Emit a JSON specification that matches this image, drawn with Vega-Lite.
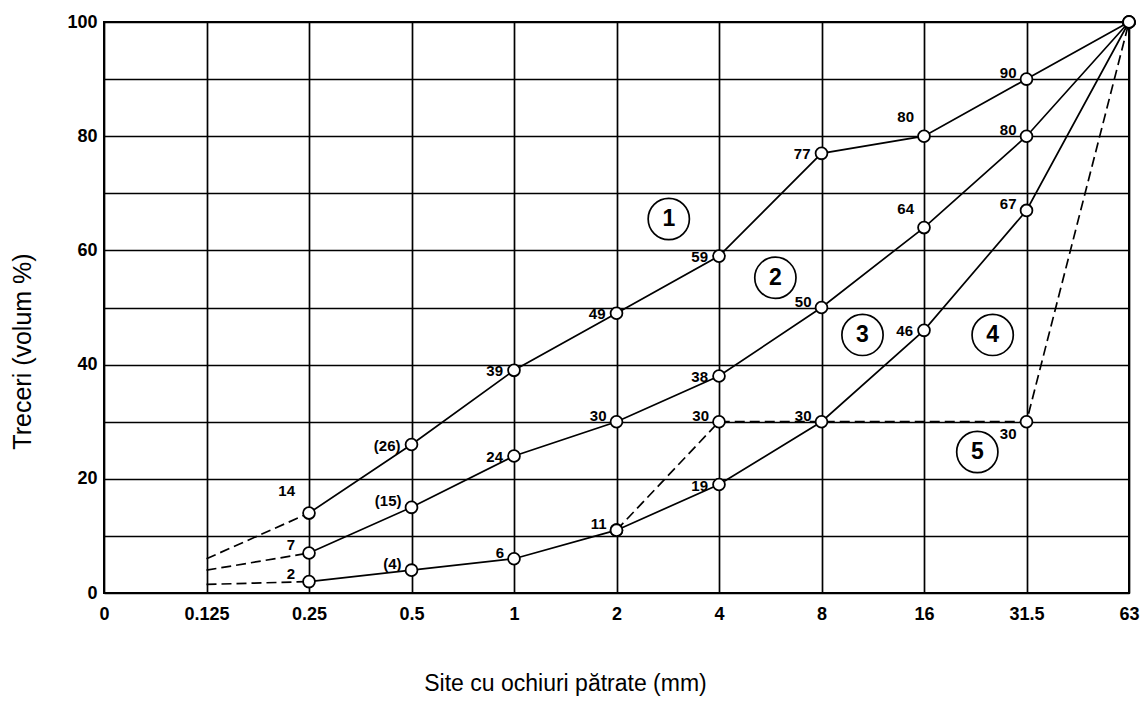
{
  "$schema": "https://vega.github.io/schema/vega-lite/v6.json",
  "width": 1025,
  "height": 571,
  "autosize": "none",
  "padding": {"left": 104, "top": 22, "right": 13, "bottom": 118},
  "background": "white",
  "config": {
    "font": "Liberation Sans",
    "view": {"stroke": "black", "strokeWidth": 2},
    "text": {"fontSize": 15, "fontWeight": "bold", "color": "black", "baseline": "middle"}
  },
  "datasets": {
    "curves": [
      {"curve": "1", "seg": "main", "sieve": "0.25", "rank": 2, "value": 14, "est": false},
      {"curve": "1", "seg": "main", "sieve": "0.5", "rank": 3, "value": 26, "est": true},
      {"curve": "1", "seg": "main", "sieve": "1", "rank": 4, "value": 39, "est": false},
      {"curve": "1", "seg": "main", "sieve": "2", "rank": 5, "value": 49, "est": false},
      {"curve": "1", "seg": "main", "sieve": "4", "rank": 6, "value": 59, "est": false},
      {"curve": "1", "seg": "main", "sieve": "8", "rank": 7, "value": 77, "est": false},
      {"curve": "1", "seg": "main", "sieve": "16", "rank": 8, "value": 80, "est": false},
      {"curve": "1", "seg": "main", "sieve": "31.5", "rank": 9, "value": 90, "est": false},
      {"curve": "1", "seg": "main", "sieve": "63", "rank": 10, "value": 100, "est": false},
      {"curve": "1", "seg": "ext", "sieve": "0.125", "rank": 1, "value": 6, "est": true},
      {"curve": "1", "seg": "ext", "sieve": "0.25", "rank": 2, "value": 14, "est": false},

      {"curve": "2", "seg": "main", "sieve": "0.25", "rank": 2, "value": 7, "est": false},
      {"curve": "2", "seg": "main", "sieve": "0.5", "rank": 3, "value": 15, "est": true},
      {"curve": "2", "seg": "main", "sieve": "1", "rank": 4, "value": 24, "est": false},
      {"curve": "2", "seg": "main", "sieve": "2", "rank": 5, "value": 30, "est": false},
      {"curve": "2", "seg": "main", "sieve": "4", "rank": 6, "value": 38, "est": false},
      {"curve": "2", "seg": "main", "sieve": "8", "rank": 7, "value": 50, "est": false},
      {"curve": "2", "seg": "main", "sieve": "16", "rank": 8, "value": 64, "est": false},
      {"curve": "2", "seg": "main", "sieve": "31.5", "rank": 9, "value": 80, "est": false},
      {"curve": "2", "seg": "main", "sieve": "63", "rank": 10, "value": 100, "est": false},
      {"curve": "2", "seg": "ext", "sieve": "0.125", "rank": 1, "value": 4, "est": true},
      {"curve": "2", "seg": "ext", "sieve": "0.25", "rank": 2, "value": 7, "est": false},

      {"curve": "3", "seg": "main", "sieve": "0.25", "rank": 2, "value": 2, "est": false},
      {"curve": "3", "seg": "main", "sieve": "0.5", "rank": 3, "value": 4, "est": true},
      {"curve": "3", "seg": "main", "sieve": "1", "rank": 4, "value": 6, "est": false},
      {"curve": "3", "seg": "main", "sieve": "2", "rank": 5, "value": 11, "est": false},
      {"curve": "3", "seg": "main", "sieve": "4", "rank": 6, "value": 19, "est": false},
      {"curve": "3", "seg": "main", "sieve": "8", "rank": 7, "value": 30, "est": false},
      {"curve": "3", "seg": "main", "sieve": "16", "rank": 8, "value": 46, "est": false},
      {"curve": "3", "seg": "main", "sieve": "31.5", "rank": 9, "value": 67, "est": false},
      {"curve": "3", "seg": "main", "sieve": "63", "rank": 10, "value": 100, "est": false},
      {"curve": "3", "seg": "ext", "sieve": "0.125", "rank": 1, "value": 1.5, "est": true},
      {"curve": "3", "seg": "ext", "sieve": "0.25", "rank": 2, "value": 2, "est": false},

      {"curve": "5", "seg": "main", "sieve": "2", "rank": 5, "value": 11, "est": false},
      {"curve": "5", "seg": "main", "sieve": "4", "rank": 6, "value": 30, "est": false},
      {"curve": "5", "seg": "main", "sieve": "31.5", "rank": 9, "value": 30, "est": false},
      {"curve": "5", "seg": "main", "sieve": "63", "rank": 10, "value": 100, "est": false}
    ],
    "zones": [
      {"zone": "1", "rank": 5.51, "value": 65.5},
      {"zone": "2", "rank": 6.55, "value": 55.2},
      {"zone": "3", "rank": 7.4, "value": 45.2},
      {"zone": "4", "rank": 8.67, "value": 45.2},
      {"zone": "5", "rank": 8.52, "value": 24.7}
    ]
  },
  "encoding": {
    "x": {
      "field": "rank",
      "type": "quantitative",
      "scale": {"domain": [0, 10], "nice": false, "zero": false},
      "axis": {
        "values": [0, 1, 2, 3, 4, 5, 6, 7, 8, 9, 10],
        "labelExpr": "['0','0.125','0.25','0.5','1','2','4','8','16','31.5','63'][datum.value]",
        "ticks": false,
        "domain": false,
        "grid": true,
        "gridColor": "black",
        "gridWidth": 1.7,
        "gridOpacity": 1,
        "labelFontSize": 18,
        "labelFontWeight": "bold",
        "labelColor": "black",
        "labelPadding": 12,
        "labelOverlap": false,
        "labelFlush": false,
        "labelBound": false,
        "title": "Site cu ochiuri pătrate (mm)",
        "titleFontSize": 23,
        "titleFontWeight": "normal",
        "titleColor": "black",
        "titleX": 461,
        "titleY": 90,
        "titleAlign": "center",
        "titleBaseline": "middle"
      }
    },
    "y": {
      "field": "value",
      "type": "quantitative",
      "scale": {"domain": [0, 100], "nice": false},
      "axis": {
        "values": [0, 10, 20, 30, 40, 50, 60, 70, 80, 90, 100],
        "labelExpr": "datum.value % 20 === 0 ? datum.label : ''",
        "ticks": false,
        "domain": false,
        "grid": true,
        "gridColor": "black",
        "gridWidth": 1.7,
        "gridOpacity": 1,
        "labelFontSize": 18,
        "labelFontWeight": "bold",
        "labelColor": "black",
        "labelPadding": 7,
        "labelOverlap": false,
        "labelFlush": false,
        "title": "Treceri (volum %)",
        "titleFontSize": 25,
        "titleFontWeight": "normal",
        "titleColor": "black",
        "titleAngle": -90,
        "titleX": -82,
        "titleY": 329,
        "titleAlign": "center",
        "titleBaseline": "middle"
      }
    }
  },
  "layer": [
    {
      "data": {"name": "curves"},
      "transform": [{"filter": "datum.seg === 'main' && datum.curve !== '5'"}],
      "mark": {"type": "line", "color": "black", "strokeWidth": 1.7},
      "encoding": {"detail": {"field": "curve"}, "order": {"field": "rank"}}
    },
    {
      "data": {"name": "curves"},
      "transform": [{"filter": "datum.seg === 'ext' || datum.curve === '5'"}],
      "mark": {"type": "line", "color": "black", "strokeWidth": 1.7, "strokeDash": [10, 5]},
      "encoding": {"detail": {"field": "curve"}, "order": {"field": "rank"}}
    },
    {
      "data": {"name": "curves"},
      "transform": [{"filter": "datum.seg === 'main'"}],
      "mark": {"type": "point", "shape": "circle", "filled": true, "fill": "white", "stroke": "black", "strokeWidth": 1.8, "size": 140, "opacity": 1}
    },
    {
      "data": {"name": "curves"},
      "transform": [
        {"filter": "datum.seg === 'main' && indexof(['1@0.5','1@1','1@2','1@4','1@8','2@1','2@4','3@4','3@16'], datum.curve + '@' + datum.sieve) >= 0"},
        {"calculate": "datum.est ? '(' + datum.value + ')' : '' + datum.value", "as": "txt"}
      ],
      "mark": {"type": "text", "align": "right", "dx": -11, "dy": 1},
      "encoding": {"text": {"field": "txt"}}
    },
    {
      "data": {"name": "curves"},
      "transform": [
        {"filter": "datum.seg === 'main' && indexof(['2@0.5','3@0.5','3@1','2@2','3@2','5@4','2@8','3@8','1@31.5','2@31.5','3@31.5'], datum.curve + '@' + datum.sieve) >= 0"},
        {"calculate": "datum.est ? '(' + datum.value + ')' : '' + datum.value", "as": "txt"}
      ],
      "mark": {"type": "text", "align": "right", "dx": -10, "dy": -6},
      "encoding": {"text": {"field": "txt"}}
    },
    {
      "data": {"name": "curves"},
      "transform": [
        {"filter": "datum.seg === 'main' && indexof(['1@16','2@16'], datum.curve + '@' + datum.sieve) >= 0"},
        {"calculate": "'' + datum.value", "as": "txt"}
      ],
      "mark": {"type": "text", "align": "right", "dx": -10, "dy": -19},
      "encoding": {"text": {"field": "txt"}}
    },
    {
      "data": {"name": "curves"},
      "transform": [
        {"filter": "datum.seg === 'main' && datum.curve === '1' && datum.sieve === '0.25'"},
        {"calculate": "'' + datum.value", "as": "txt"}
      ],
      "mark": {"type": "text", "align": "right", "dx": -14, "dy": -22},
      "encoding": {"text": {"field": "txt"}}
    },
    {
      "data": {"name": "curves"},
      "transform": [
        {"filter": "datum.seg === 'main' && datum.curve !== '1' && datum.sieve === '0.25'"},
        {"calculate": "'' + datum.value", "as": "txt"}
      ],
      "mark": {"type": "text", "align": "right", "dx": -14, "dy": -8},
      "encoding": {"text": {"field": "txt"}}
    },
    {
      "data": {"name": "curves"},
      "transform": [
        {"filter": "datum.curve === '5' && datum.sieve === '31.5'"},
        {"calculate": "'' + datum.value", "as": "txt"}
      ],
      "mark": {"type": "text", "align": "right", "dx": -10, "dy": 12},
      "encoding": {"text": {"field": "txt"}}
    },
    {
      "data": {"name": "zones"},
      "mark": {"type": "point", "shape": "circle", "filled": true, "fill": "white", "stroke": "black", "strokeWidth": 1.7, "size": 1700, "opacity": 1}
    },
    {
      "data": {"name": "zones"},
      "mark": {"type": "text", "align": "center", "fontSize": 23, "fontWeight": "bold"},
      "encoding": {"text": {"field": "zone"}}
    }
  ]
}
